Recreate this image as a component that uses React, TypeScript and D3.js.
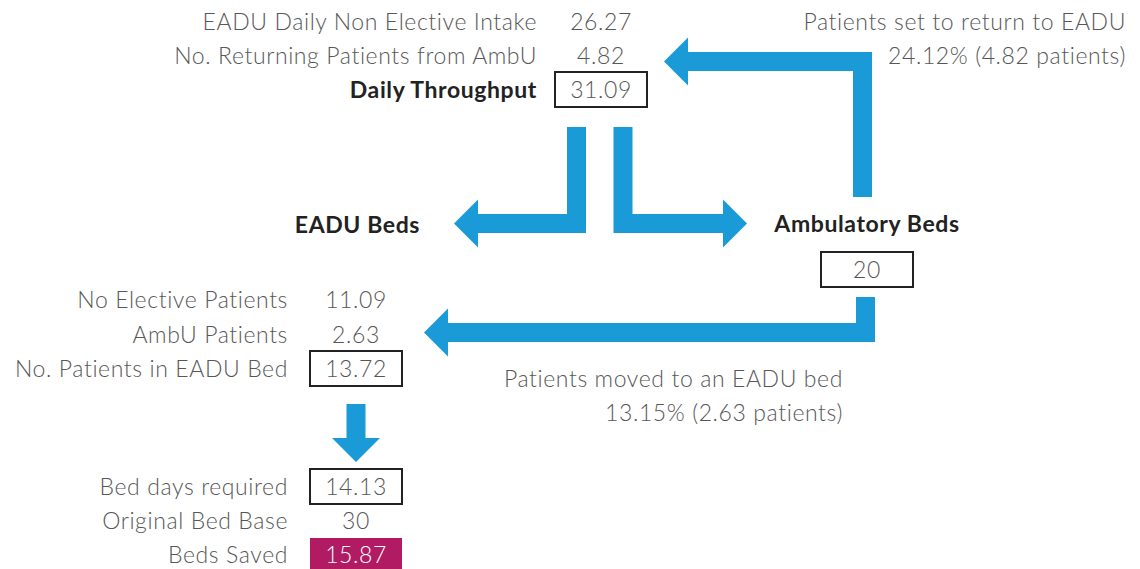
import { type FC } from "react";
import * as d3 from "d3";

// values
const intakeLabels = ["EADU Daily Non Elective Intake", "No. Returning Patients from AmbU", "Daily Throughput"];
const intakeValues = [26.27, 4.82, 31.09];
const bedLabels = ["No Elective Patients", "AmbU Patients", "No. Patients in EADU Bed"];
const bedValues = [11.09, 2.63, 13.72];
const outcomeLabels = ["Bed days required", "Original Bed Base", "Beds Saved"];
const outcomeValues = [14.13, 30, 15.87];
const ambulatoryBeds = [20];
const returnShare = [24.12, 4.82];
const movedShare = [13.15, 2.63];

const W = 1140;
const H = 569;
const BLUE = "#1a9ad7";
const GREY = "#575757";
const DARK = "#222";
const MAGENTA = "#b01b63";
const FONT = "Lato, 'DejaVu Sans', sans-serif";
const SIZE = 23;
const SPACING = 0.6;

// arrow routes (centre lines of the shafts)
type Pt = [number, number];
const routes: Pt[][] = [
  [[576.5, 127], [576.5, 223.5], [478, 223.5]],
  [[623, 127], [623, 223.5], [723, 223.5]],
  [[862.5, 197], [862.5, 61.5], [688, 61.5]],
  [[865.5, 297], [865.5, 332.5], [448, 332.5]],
  [[356, 404], [356, 438]],
];

const shaft = d3.line<Pt>();

const Arrow: FC<{ pts: Pt[] }> = ({ pts }) => {
  const [x0, y0] = pts[pts.length - 2];
  const [x1, y1] = pts[pts.length - 1];
  const ang = Math.atan2(y1 - y0, x1 - x0);
  const len = 24;
  const half = 24;
  const ux = Math.cos(ang), uy = Math.sin(ang);
  const head: Pt[] = [
    [x1 - uy * half, y1 + ux * half],
    [x1 + ux * len, y1 + uy * len],
    [x1 + uy * half, y1 - ux * half],
  ];
  return (
    <g>
      <path d={shaft(pts) ?? ""} fill="none" stroke={BLUE} strokeWidth={19} strokeLinejoin="miter" />
      <path d={(d3.line<Pt>()(head) ?? "") + "Z"} fill={BLUE} />
    </g>
  );
};

const fmt = (v: number) => (Number.isInteger(v) ? String(v) : v.toFixed(2));

const Block: FC<{
  labels: string[];
  values: number[];
  labelX: number;
  valueX: number;
  top: number;
  step: number;
  boxed: number[];
  bold?: number[];
  filled?: number[];
}> = ({ labels, values, labelX, valueX, top, step, boxed, bold = [], filled = [] }) => {
  const y = d3.scaleLinear().domain([0, 1]).range([top, top + step]);
  return (
    <g>
      {labels.map((l, i) => (
        <text
          key={"l" + i}
          x={labelX}
          y={y(i)}
          textAnchor="end"
          fill={bold.includes(i) ? DARK : GREY}
          fontWeight={bold.includes(i) ? 700 : 300}
        >
          {l}
        </text>
      ))}
      {values.map((v, i) => (
        <g key={"v" + i}>
          {boxed.includes(i) && (
            <rect x={valueX - 46} y={y(i) - 26} width={92} height={35} fill="none" stroke={DARK} strokeWidth={2} />
          )}
          {filled.includes(i) && <rect x={valueX - 46} y={y(i) - 25} width={92} height={40} fill={MAGENTA} />}
          <text x={valueX} y={y(i)} textAnchor="middle" fill={filled.includes(i) ? "#fff" : GREY} fontWeight={300}>
            {fmt(v)}
          </text>
        </g>
      ))}
    </g>
  );
};

export default function App() {
  return (
    <svg
      width={W}
      height={H}
      style={{ position: "absolute", left: 0, top: 0, background: "#fff" }}
      fontFamily={FONT}
      fontSize={SIZE}
      letterSpacing={SPACING}
    >
      {routes.map((r, i) => (
        <Arrow key={i} pts={r} />
      ))}

      <Block
        labels={intakeLabels}
        values={intakeValues}
        labelX={537}
        valueX={601}
        top={30}
        step={34}
        boxed={[2]}
        bold={[2]}
      />

      <text x={1126} y={30} textAnchor="end" fill={GREY} fontWeight={300}>
        Patients set to return to EADU
      </text>
      <text x={1126} y={64} textAnchor="end" fill={GREY} fontWeight={300}>
        {`${returnShare[0]}% (${returnShare[1]} patients)`}
      </text>

      <text x={420} y={233} textAnchor="end" fill={DARK} fontWeight={700}>
        EADU Beds
      </text>
      <text x={867} y={232} textAnchor="middle" fill={DARK} fontWeight={700}>
        Ambulatory Beds
      </text>
      <rect x={821} y={252} width={92} height={35} fill="none" stroke={DARK} strokeWidth={2} />
      <text x={867} y={278} textAnchor="middle" fill={GREY} fontWeight={300}>
        {ambulatoryBeds[0]}
      </text>

      <Block
        labels={bedLabels}
        values={bedValues}
        labelX={288}
        valueX={356}
        top={308}
        step={34.5}
        boxed={[2]}
      />

      <text x={843} y={387} textAnchor="end" fill={GREY} fontWeight={300}>
        Patients moved to an EADU bed
      </text>
      <text x={843} y={421} textAnchor="end" fill={GREY} fontWeight={300}>
        {`${movedShare[0]}% (${movedShare[1]} patients)`}
      </text>

      <Block
        labels={outcomeLabels}
        values={outcomeValues}
        labelX={288}
        valueX={356}
        top={495}
        step={34}
        boxed={[0]}
        filled={[2]}
      />
    </svg>
  );
}
